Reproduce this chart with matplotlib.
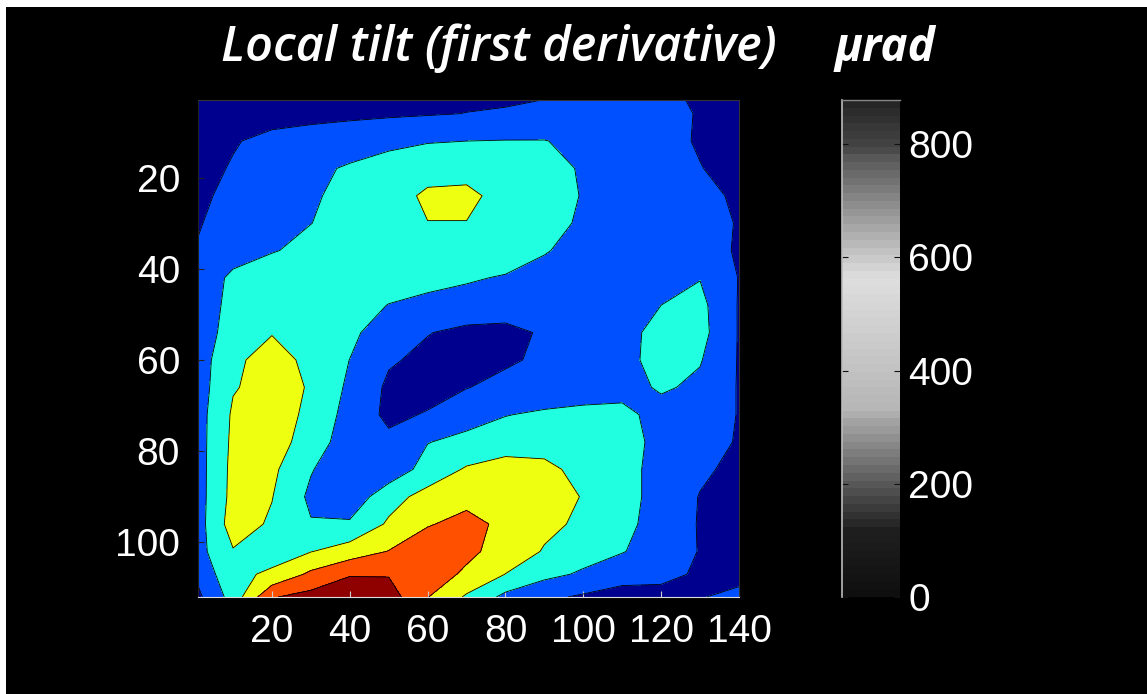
import numpy as np
import matplotlib
matplotlib.use("Agg")
import matplotlib.pyplot as plt
from matplotlib.colors import ListedColormap, Normalize
from matplotlib.cm import ScalarMappable
from matplotlib.patches import Rectangle

# grid nodes (pixel columns / rows of the tilt map)
x_cols = [1, 10, 20, 30, 40, 50, 60, 70, 80, 90, 100, 110, 120, 130, 140]
y_rows = [1, 6, 12, 18, 24, 30, 36, 42, 48, 54, 60, 66, 72, 78, 84, 90, 96, 102, 107, 112]

# local tilt in micro-radians (one list per row)
tilt = [
    [80, 90, 100, 105, 110, 115, 120, 120, 125, 135, 170, 190, 170, 130, 100],
    [80, 90, 100, 110, 120, 130, 140, 152, 160, 175, 215, 215, 195, 140, 100],
    [90, 140, 185, 210, 235, 265, 290, 300, 305, 305, 260, 230, 200, 135, 95],
    [110, 160, 220, 270, 315, 360, 405, 420, 410, 370, 280, 240, 210, 155, 100],
    [120, 190, 250, 285, 335, 400, 470, 470, 420, 380, 290, 250, 220, 185, 130],
    [140, 210, 260, 298, 350, 410, 448, 448, 420, 360, 275, 240, 215, 180, 145],
    [160, 215, 290, 340, 390, 420, 430, 420, 400, 310, 250, 225, 215, 190, 140],
    [175, 340, 390, 410, 410, 390, 360, 320, 285, 250, 225, 220, 240, 295, 145],
    [185, 360, 420, 420, 380, 295, 250, 230, 215, 205, 200, 215, 300, 340, 140],
    [200, 380, 445, 430, 340, 200, 155, 120, 115, 165, 200, 260, 340, 350, 140],
    [220, 430, 490, 425, 298, 165, 120, 100, 130, 175, 210, 250, 360, 310, 140],
    [230, 440, 500, 440, 270, 125, 100, 145, 190, 215, 225, 240, 320, 270, 140],
    [240, 470, 510, 422, 240, 120, 160, 240, 295, 320, 340, 345, 240, 210, 145],
    [240, 480, 500, 400, 200, 180, 295, 340, 370, 385, 390, 370, 250, 200, 140],
    [240, 490, 480, 310, 190, 200, 360, 465, 520, 490, 400, 360, 240, 170, 120],
    [240, 495, 455, 270, 200, 395, 500, 560, 580, 540, 440, 370, 230, 145, 110],
    [240, 520, 430, 310, 320, 470, 590, 640, 570, 480, 427, 340, 240, 140, 100],
    [250, 440, 400, 445, 520, 605, 680, 640, 530, 440, 360, 310, 210, 145, 100],
    [180, 420, 470, 630, 740, 740, 690, 570, 448, 340, 280, 180, 170, 140, 120],
    [120, 360, 740, 800, 840, 820, 605, 430, 260, 180, 130, 120, 125, 145, 175],
]

levels = [0, 150, 300, 450, 600, 750, 900]
fill_colors = ["#00008f", "#0050ff", "#20ffdf", "#efff10", "#ff5000", "#8f0000"]

cbar_max = 878
x_ticks = [20, 40, 60, 80, 100, 120, 140]
y_ticks = [20, 40, 60, 80, 100]
cbar_ticks = [0, 200, 400, 600, 800]

title_text = "Local tilt (first derivative)"
unit_text = "\u03bcrad"

# grey version of jet, as in the printed colour bar
jet = plt.get_cmap("jet", 64)(np.arange(64))[:, :3]
lum = jet @ np.array([0.2989, 0.587, 0.114])
gray_jet = ListedColormap(np.column_stack([lum, lum, lum]))

plt.rcParams["font.family"] = ["Liberation Sans", "DejaVu Sans"]

fig = plt.figure(figsize=(11.47, 6.94), dpi=100, facecolor="white")
fig.add_artist(Rectangle((6 / 1147, 0), 1, 687 / 694, transform=fig.transFigure,
                         facecolor="black", edgecolor="none", zorder=-10))

ax = fig.add_axes([198 / 1147, 97 / 694, 541 / 1147, 497 / 694])
ax.set_facecolor("black")
X, Y = np.meshgrid(x_cols, y_rows)
Z = np.array(tilt, dtype=float)
ax.contourf(X, Y, Z, levels=levels, colors=fill_colors)
ax.contour(X, Y, Z, levels=levels[1:-1], colors="black", linewidths=0.6)
ax.set_xlim(1, 140)
ax.set_ylim(112, 3)
ax.set_xticks(x_ticks)
ax.set_yticks(y_ticks)
ax.tick_params(axis="x", direction="in", length=4, color="#cccccc", pad=12,
               labelsize=28, labelcolor="white")
ax.tick_params(axis="y", direction="in", length=4, color="#222222", pad=13,
               labelsize=28, labelcolor="white")
ax.spines["bottom"].set_color("#dddddd")
ax.spines["top"].set_color("#333333")
ax.spines["left"].set_color("#222222")
ax.spines["right"].set_color("#333333")

cax = fig.add_axes([842 / 1147, 97 / 694, 58 / 1147, 497 / 694])
cb = fig.colorbar(ScalarMappable(norm=Normalize(0, cbar_max), cmap=gray_jet), cax=cax)
cb.set_ticks(cbar_ticks)
cb.outline.set_visible(False)
cax.yaxis.set_ticks_position("both")
cax.tick_params(direction="in", length=4, color="#111111", labelsize=28,
                labelcolor="white", pad=6, labelleft=False, labelright=True)
cax.plot([0, 0], [0, 1], transform=cax.transAxes, color="#bbbbbb", lw=1.2, clip_on=False)
cax.plot([0, 1], [1, 1], transform=cax.transAxes, color="#888888", lw=1.0, clip_on=False)

fig.text(499 / 1147, 1 - 48 / 694, title_text, color="white", fontsize=35,
         fontstyle="italic", fontweight="semibold", family=["Open Sans", "DejaVu Sans"],
         ha="center", va="center")
fig.text(885 / 1147, 1 - 48 / 694, unit_text, color="white", fontsize=33,
         fontstyle="italic", fontweight="bold", family=["Open Sans", "DejaVu Sans"],
         ha="center", va="center")

fig.savefig("out.png", dpi=100, facecolor=fig.get_facecolor())
